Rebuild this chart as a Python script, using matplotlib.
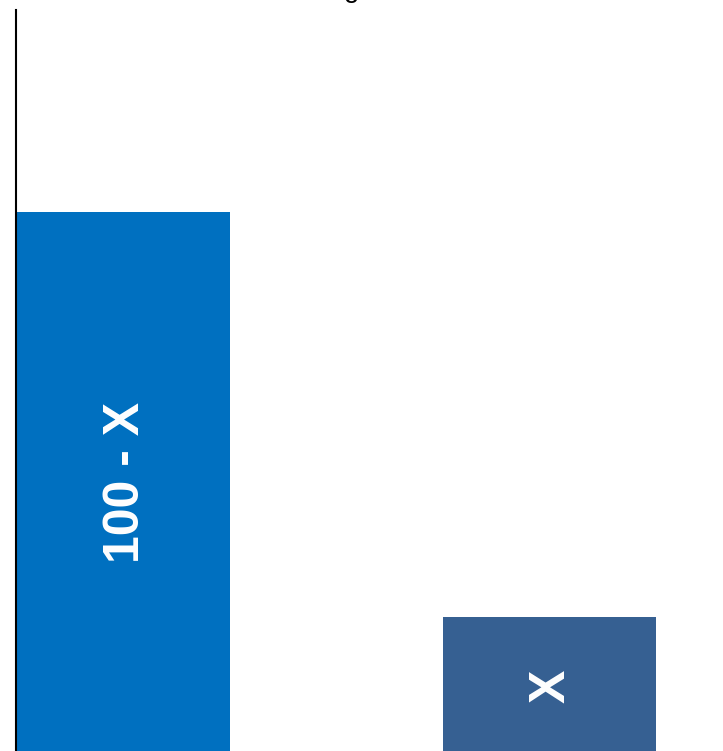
import matplotlib
matplotlib.use("Agg")
import matplotlib.pyplot as plt

categories = ["100 - X", "X"]
values = [75, 25]
bar_labels = ["100 - X", "X"]
label_pos = [41.6, 16.5]
colors = ["#0070C0", "#366092"]

W, H = 723, 751
fig = plt.figure(figsize=(W / 100, H / 100), dpi=100)
left_px, top_px, bottom_px = 15.5, 10, 819.5
ax = fig.add_axes([left_px / W, 1 - bottom_px / H, (W - left_px) / W, (bottom_px - top_px) / H])

x = list(range(len(categories)))
ax.bar(x, values, width=0.5, color=colors, zorder=2)
unit = 426.0
for xi, lab, yp in zip(x, bar_labels, label_pos):
    ax.text(xi + 2.5 / unit, yp, lab, rotation=90, ha="center", va="center", color="white",
            fontsize=36, fontweight="bold", family=["Liberation Sans", "DejaVu Sans"], zorder=3)

ax.set_xlim(-0.25 - (17 - left_px) / unit, -0.25 + (W - 17) / unit)
ax.set_ylim(0, 100)
for s in ["top", "right", "bottom"]:
    ax.spines[s].set_visible(False)
ax.spines["left"].set_linewidth(1.5)
ax.spines["left"].set_color("black")
ax.set_xticks([])
ax.set_yticks([])

# partially visible title descender at the very top
fig.text(352 / W, 1 + 3 / H, "g", ha="center", va="baseline", fontsize=20,
         family="Liberation Sans", color="black")

fig.savefig("out.png", dpi=100)
